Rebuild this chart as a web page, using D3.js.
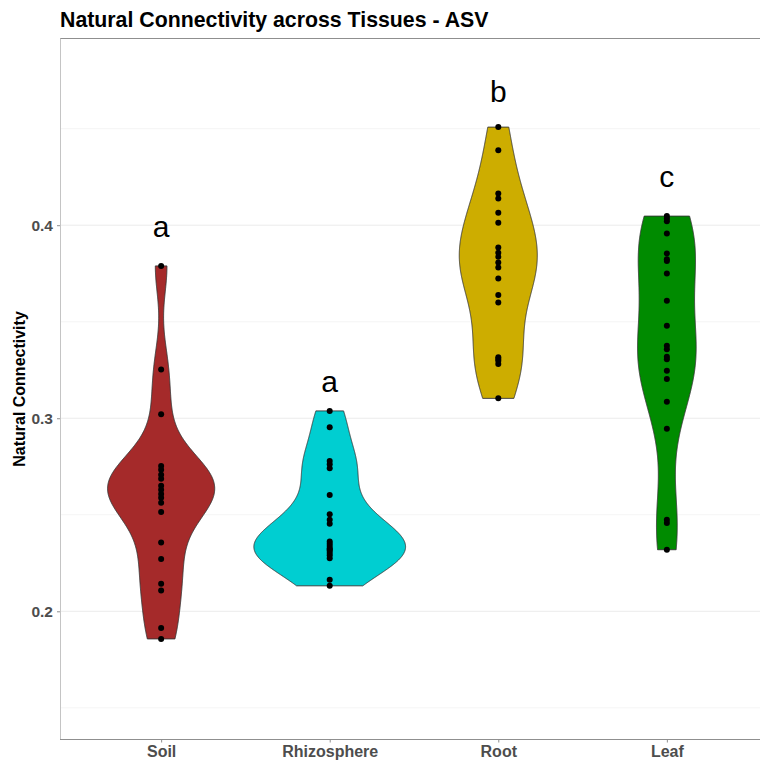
<!DOCTYPE html>
<html>
<head>
<meta charset="utf-8">
<script src="https://cdn.jsdelivr.net/npm/d3@7"></script>
<style>
  html, body { margin: 0; padding: 0; background: #fff; }
  svg { display: block; font-family: "Liberation Sans", Arial, sans-serif; }
</style>
</head>
<body>
<svg id="chart" width="760" height="761"></svg>
<script>
// Natural connectivity per network, grouped by tissue
const tissues = ["Soil", "Rhizosphere", "Root", "Leaf"];
const tissueColors = ["#A52A2A", "#00CED1", "#CDAD00", "#008B00"];

const soilValues = [0.3789, 0.3253, 0.3021, 0.2753, 0.2733, 0.2707, 0.2686, 0.2650,
  0.2629, 0.2608, 0.2588, 0.2562, 0.2515, 0.2357, 0.2271, 0.2143, 0.2108, 0.1914, 0.1857];
const rhizosphereValues = [0.3038, 0.2953, 0.2779, 0.2762, 0.2741, 0.2602, 0.2503, 0.2474,
  0.2453, 0.2362, 0.2350, 0.2338, 0.2326, 0.2320, 0.2314, 0.2302, 0.2290, 0.2275, 0.2164, 0.2132];
const rootValues = [0.4508, 0.4388, 0.4164, 0.4138, 0.4064, 0.4012, 0.3885, 0.3857, 0.3836,
  0.3807, 0.3781, 0.3724, 0.3638, 0.3600, 0.3316, 0.3307, 0.3298, 0.3281, 0.3103];
const leafValues = [0.4047, 0.4035, 0.4021, 0.3957, 0.3854, 0.3824, 0.3814, 0.3750, 0.3608,
  0.3479, 0.3376, 0.3357, 0.3319, 0.3305, 0.3246, 0.3203, 0.3086, 0.2946, 0.2474, 0.2457, 0.2319];

// Significance letters and the height they sit at
const groupLetters = ["a", "a", "b", "c"];
const letterHeights = [0.394, 0.3138, 0.4638, 0.4198];

const yTicks = [0.2, 0.3, 0.4];
const yMinorTicks = [0.15, 0.25, 0.35, 0.45];

const groups = [soilValues, rhizosphereValues, rootValues, leafValues];

const svg = d3.select("#chart");
const panel = { left: 60, right: 768, top: 38.5, bottom: 739.5 };

const x = d3.scalePoint().domain(tissues).range([panel.left, panel.right]).padding(0.6);
const y = d3.scaleLinear().domain([0.1336, 0.4967]).range([panel.bottom, panel.top]);
const step = x.step();

// Gaussian kernel density, bandwidth by Silverman's rule of thumb (nrd0)
function quantile7(sorted, p) {
  const h = (sorted.length - 1) * p, lo = Math.floor(h), hi = Math.ceil(h);
  return sorted[lo] + (h - lo) * (sorted[hi] - sorted[lo]);
}
function bwNrd0(vals) {
  const s = vals.slice().sort(d3.ascending);
  const sd = d3.deviation(s);
  const iqr = quantile7(s, 0.75) - quantile7(s, 0.25);
  let lo = Math.min(sd, iqr / 1.34);
  if (!(lo > 0)) lo = sd || Math.abs(s[0]) || 1;
  return 0.9 * lo * Math.pow(s.length, -0.2);
}
function density(vals) {
  const bw = bwNrd0(vals);
  const [mn, mx] = d3.extent(vals);
  const n = 512, out = [];
  for (let i = 0; i < n; i++) {
    const v = mn + (mx - mn) * i / (n - 1);
    let s = 0;
    for (const xi of vals) { const u = (v - xi) / bw; s += Math.exp(-0.5 * u * u); }
    out.push([v, s / (vals.length * bw * Math.sqrt(2 * Math.PI))]);
  }
  return out;
}

// Equal-area violins: widest density across all groups fills 90% of a slot
const dens = groups.map(density);
const maxDens = d3.max(dens, d => d3.max(d, p => p[1]));
const halfWidth = d3.scaleLinear().domain([0, maxDens]).range([0, 0.45 * step]);

// Grid
const grid = svg.append("g");
grid.selectAll("line.minor").data(yMinorTicks).join("line")
  .attr("x1", panel.left).attr("x2", panel.right)
  .attr("y1", d => y(d)).attr("y2", d => y(d))
  .attr("stroke", "#f2f2f2").attr("stroke-width", 0.8);
grid.selectAll("line.major").data(yTicks).join("line")
  .attr("x1", panel.left).attr("x2", panel.right)
  .attr("y1", d => y(d)).attr("y2", d => y(d))
  .attr("stroke", "#ebebeb").attr("stroke-width", 1);

// Violins
const area = d3.area()
  .curve(d3.curveLinear)
  .y(p => y(p[0]));
svg.append("g").selectAll("path").data(tissues).join("path")
  .attr("d", (t, i) => area
    .x0(p => x(t) - halfWidth(p[1]))
    .x1(p => x(t) + halfWidth(p[1]))(dens[i]))
  .attr("fill", (t, i) => tissueColors[i])
  .attr("stroke", "#333333")
  .attr("stroke-width", 0.9);

// Individual observations
const pts = svg.append("g");
groups.forEach((vals, i) => {
  pts.selectAll(null).data(vals).join("circle")
    .attr("cx", x(tissues[i]))
    .attr("cy", d => y(d))
    .attr("r", 3)
    .attr("fill", "#000");
});

// Group letters
svg.append("g").selectAll("text").data(tissues).join("text")
  .attr("x", t => x(t))
  .attr("y", (t, i) => y(letterHeights[i]))
  .attr("text-anchor", "middle")
  .attr("font-size", 30)
  .attr("fill", "#000")
  .text((t, i) => groupLetters[i]);

// Panel frame
svg.append("line").attr("x1", panel.left).attr("x2", 760)
  .attr("y1", panel.top).attr("y2", panel.top).attr("stroke", "#8f8f8f").attr("stroke-width", 1);
svg.append("line").attr("x1", panel.left + 0.5).attr("x2", panel.left + 0.5)
  .attr("y1", panel.top).attr("y2", panel.bottom).attr("stroke", "#c4c4c4").attr("stroke-width", 1);
svg.append("line").attr("x1", panel.left).attr("x2", 760)
  .attr("y1", panel.bottom).attr("y2", panel.bottom).attr("stroke", "#8f8f8f").attr("stroke-width", 1);

// Y axis
const yAxis = svg.append("g").attr("transform", `translate(${panel.left},0)`)
  .call(d3.axisLeft(y).tickValues(yTicks).tickFormat(d3.format(".1f")).tickSize(3).tickPadding(4));
yAxis.select(".domain").remove();
yAxis.selectAll(".tick line").attr("stroke", "#8f8f8f");
yAxis.selectAll(".tick text").attr("fill", "#4d4d4d").attr("font-size", 15.5)
  .attr("font-weight", "bold").attr("font-family", "Liberation Sans, Arial, sans-serif");

// X axis
const xAxis = svg.append("g").attr("transform", `translate(0,${panel.bottom})`)
  .call(d3.axisBottom(x).tickSize(3).tickPadding(3));
xAxis.select(".domain").remove();
xAxis.selectAll(".tick line").attr("stroke", "#8f8f8f");
xAxis.selectAll(".tick text").attr("fill", "#4d4d4d").attr("font-size", 16)
  .attr("font-weight", "bold").attr("font-family", "Liberation Sans, Arial, sans-serif");

// Titles
svg.append("text")
  .attr("x", 60).attr("y", 27)
  .attr("font-size", 21.3).attr("font-weight", "bold").attr("fill", "#000")
  .text("Natural Connectivity across Tissues - ASV");

svg.append("text")
  .attr("transform", `translate(25,${(panel.top + panel.bottom) / 2}) rotate(-90)`)
  .attr("text-anchor", "middle")
  .attr("font-size", 16).attr("font-weight", "bold").attr("fill", "#000")
  .text("Natural Connectivity");
</script>
</body>
</html>
